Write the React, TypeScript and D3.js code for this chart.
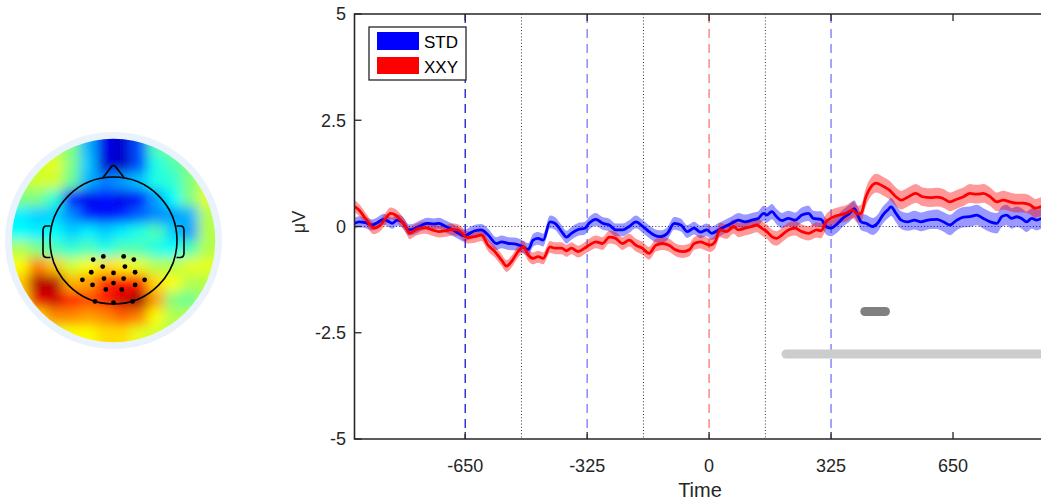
import React from 'react';
import * as d3 from 'd3';

// [time (ms), mean (µV), sem (µV)]
const STD_DATA: [number, number, number][] = [
  [-944, 0.075, 0.13], [-933, 0.11, 0.13], [-916, 0.09, 0.13], [-898, 0.035, 0.13], [-884, 0.09, 0.13],
  [-867, 0.17, 0.13], [-853, 0.11, 0.13], [-845, 0.075, 0.13], [-831, 0.15, 0.13], [-818, 0.11, 0.13],
  [-800, -0.08, 0.13], [-782, -0.04, 0.13], [-765, 0.035, 0.13], [-751, 0.075, 0.13], [-733, 0.06, 0.13],
  [-720, 0.075, 0.13], [-702, 0, 0.14], [-685, -0.07, 0.14], [-667, -0.16, 0.14], [-653, -0.22, 0.14],
  [-642, -0.18, 0.14], [-624, -0.1, 0.14], [-607, -0.08, 0.14], [-589, -0.2, 0.15], [-567, -0.4, 0.15],
  [-553, -0.36, 0.15], [-535, -0.4, 0.15], [-518, -0.41, 0.15], [-500, -0.46, 0.15], [-482, -0.54, 0.15],
  [-469, -0.32, 0.15], [-456, -0.28, 0.15], [-442, -0.32, 0.15], [-424, 0.11, 0.15], [-411, 0.075, 0.15],
  [-393, -0.12, 0.15], [-380, -0.25, 0.15], [-367, -0.16, 0.15], [-349, -0.07, 0.15], [-331, -0.04, 0.15],
  [-320, 0.075, 0.15], [-302, 0.17, 0.15], [-284, 0.075, 0.15], [-266, 0.035, 0.15], [-249, -0.08, 0.15],
  [-231, -0.08, 0.15], [-213, 0, 0.15], [-195, 0.11, 0.15], [-178, 0.01, 0.15], [-160, -0.12, 0.15],
  [-147, -0.2, 0.15], [-129, -0.24, 0.15], [-111, -0.16, 0.15], [-93, 0.075, 0.15], [-75, 0.035, 0.15],
  [-58, -0.12, 0.15], [-40, -0.04, 0.15], [-23, -0.13, 0.15], [-6, -0.08, 0.15], [7, -0.16, 0.16],
  [25, -0.08, 0.16], [43, 0, 0.16], [60, 0.075, 0.16], [78, 0.15, 0.17], [96, 0.11, 0.17],
  [114, 0.15, 0.17], [131, 0.19, 0.17], [145, 0.31, 0.18], [154, 0.27, 0.18], [167, 0.35, 0.18],
  [180, 0.23, 0.18], [194, 0.14, 0.18], [211, 0.19, 0.18], [229, 0.15, 0.18], [247, 0.27, 0.18],
  [265, 0.31, 0.18], [278, 0.19, 0.18], [287, 0.18, 0.18], [298, 0.17, 0.19], [312, 0, 0.19],
  [325, -0.04, 0.19], [338, 0.035, 0.2], [356, 0.19, 0.2], [374, 0.31, 0.2], [387, 0.42, 0.2],
  [396, 0.27, 0.2], [405, 0.11, 0.2], [418, 0.075, 0.2], [436, 0, 0.2], [449, 0.075, 0.2],
  [463, 0.27, 0.2], [476, 0.39, 0.2], [485, 0.46, 0.21], [498, 0.31, 0.21], [512, 0.15, 0.21],
  [529, 0.11, 0.21], [547, 0.15, 0.22], [565, 0.11, 0.22], [583, 0.15, 0.22], [592, 0.16, 0.22],
  [607, 0.17, 0.23], [624, 0.11, 0.23], [642, 0.035, 0.24], [660, 0.15, 0.24], [678, 0.22, 0.24],
  [695, 0.23, 0.24], [713, 0.27, 0.24], [731, 0.19, 0.24], [749, 0.11, 0.24], [767, 0.075, 0.24],
  [780, 0.23, 0.24], [793, 0.27, 0.24], [806, 0.19, 0.24], [820, 0.23, 0.24], [833, 0.19, 0.24],
  [846, 0.11, 0.24], [860, 0.19, 0.24], [873, 0.15, 0.24], [885, 0.19, 0.24],
];

const XXY_DATA: [number, number, number][] = [
  [-944, 0.47, 0.14], [-933, 0.39, 0.14], [-916, 0.19, 0.14], [-893, -0.04, 0.14], [-876, 0.035, 0.14],
  [-862, 0.19, 0.14], [-849, 0.31, 0.14], [-836, 0.27, 0.14], [-822, 0.15, 0.14], [-809, 0, 0.14],
  [-798, -0.16, 0.14], [-782, -0.08, 0.14], [-769, -0.04, 0.14], [-756, -0.03, 0.14], [-738, -0.08, 0.14],
  [-720, -0.12, 0.14], [-702, -0.1, 0.14], [-685, -0.07, 0.14], [-671, -0.08, 0.14], [-658, -0.16, 0.14],
  [-645, -0.26, 0.14], [-624, -0.24, 0.14], [-607, -0.2, 0.14], [-589, -0.44, 0.14], [-571, -0.59, 0.14],
  [-553, -0.79, 0.14], [-540, -0.93, 0.14], [-527, -0.83, 0.14], [-509, -0.59, 0.14], [-495, -0.48, 0.14],
  [-482, -0.67, 0.14], [-469, -0.75, 0.14], [-456, -0.71, 0.14], [-442, -0.75, 0.14], [-424, -0.48, 0.14],
  [-411, -0.51, 0.14], [-393, -0.51, 0.14], [-380, -0.57, 0.14], [-367, -0.51, 0.14], [-349, -0.59, 0.14],
  [-332, -0.51, 0.14], [-320, -0.44, 0.15], [-302, -0.36, 0.15], [-284, -0.4, 0.15], [-266, -0.25, 0.15],
  [-249, -0.28, 0.15], [-231, -0.4, 0.15], [-213, -0.32, 0.15], [-195, -0.44, 0.15], [-178, -0.51, 0.15],
  [-160, -0.63, 0.15], [-142, -0.44, 0.15], [-124, -0.4, 0.15], [-107, -0.44, 0.15], [-89, -0.55, 0.15],
  [-71, -0.59, 0.15], [-53, -0.55, 0.15], [-40, -0.4, 0.15], [-23, -0.36, 0.16], [-11, -0.4, 0.16],
  [3, -0.44, 0.16], [16, -0.36, 0.16], [29, -0.08, 0.17], [47, -0.12, 0.17], [65, 0, 0.17],
  [78, -0.08, 0.17], [96, -0.04, 0.17], [114, 0, 0.17], [127, 0.035, 0.17], [140, -0.04, 0.17],
  [154, -0.12, 0.17], [167, -0.24, 0.17], [180, -0.28, 0.17], [194, -0.2, 0.17], [211, -0.08, 0.17],
  [229, -0.04, 0.17], [247, -0.12, 0.17], [265, -0.16, 0.17], [287, -0.08, 0.18], [298, -0.1, 0.18],
  [312, 0.11, 0.18], [330, 0.22, 0.19], [347, 0.27, 0.19], [365, 0.31, 0.19], [383, 0.39, 0.2],
  [396, 0.29, 0.2], [405, 0.31, 0.2], [418, 0.7, 0.21], [432, 0.94, 0.22], [445, 1.02, 0.22],
  [463, 0.95, 0.22], [480, 0.86, 0.22], [498, 0.7, 0.22], [512, 0.62, 0.22], [529, 0.69, 0.22],
  [551, 0.78, 0.22], [569, 0.7, 0.22], [592, 0.68, 0.22], [607, 0.69, 0.22], [624, 0.66, 0.22],
  [642, 0.58, 0.22], [660, 0.64, 0.22], [678, 0.7, 0.22], [695, 0.78, 0.22], [713, 0.76, 0.22],
  [731, 0.78, 0.22], [749, 0.7, 0.22], [767, 0.58, 0.22], [784, 0.62, 0.22], [802, 0.58, 0.22],
  [820, 0.55, 0.22], [837, 0.55, 0.22], [855, 0.51, 0.22], [869, 0.43, 0.22], [885, 0.47, 0.22],
];

const X_TICKS = [-650, -325, 0, 325, 650];
const X_TICK_LABELS = ['-650', '-325', '0', '325', '650'];
const Y_TICKS = [-5, -2.5, 0, 2.5, 5];
const Y_TICK_LABELS = ['-5', '-2.5', '0', '2.5', '5'];
const X_DOMAIN = [-945, 945];
const Y_DOMAIN = [-5, 5];

const STIM_LINES = [-650, -325, 325];   // blue dashed
const TARGET_LINES = [0];               // red dashed
const DOTTED_LINES = [-500, -175, 150]; // black dotted

// significance bars [t0, t1, level µV]
const SIG_DARK: [number, number, number] = [415, 470, -2];
const SIG_LIGHT: [number, number, number] = [205, 945, -3];

const LEGEND_LABELS = ['STD', 'XXY'];

// topography grid (0..1 on jet scale), 12 x 12 rows from front (top) to back
const TOPO_GRID: number[][] = [
  [0.55, 0.55, 0.55, 0.5, 0.3, 0.1, 0.07, 0.2, 0.45, 0.5, 0.5, 0.5],
  [0.55, 0.58, 0.6, 0.5, 0.32, 0.08, 0.06, 0.2, 0.4, 0.45, 0.5, 0.55],
  [0.55, 0.58, 0.58, 0.48, 0.3, 0.25, 0.28, 0.32, 0.4, 0.42, 0.5, 0.58],
  [0.5, 0.5, 0.42, 0.14, 0.1, 0.14, 0.1, 0.12, 0.28, 0.38, 0.5, 0.6],
  [0.36, 0.33, 0.33, 0.26, 0.16, 0.12, 0.16, 0.22, 0.26, 0.28, 0.3, 0.55],
  [0.38, 0.36, 0.38, 0.33, 0.36, 0.33, 0.36, 0.4, 0.45, 0.33, 0.28, 0.55],
  [0.55, 0.5, 0.45, 0.42, 0.45, 0.4, 0.45, 0.45, 0.4, 0.38, 0.45, 0.55],
  [0.62, 0.75, 0.68, 0.58, 0.62, 0.66, 0.64, 0.6, 0.55, 0.55, 0.6, 0.6],
  [0.68, 0.95, 0.95, 0.7, 0.72, 0.84, 0.86, 0.84, 0.66, 0.62, 0.55, 0.55],
  [0.66, 0.9, 0.92, 0.84, 0.8, 0.84, 0.92, 0.97, 0.72, 0.5, 0.48, 0.55],
  [0.6, 0.66, 0.74, 0.74, 0.72, 0.74, 0.78, 0.75, 0.62, 0.55, 0.55, 0.55],
  [0.55, 0.55, 0.58, 0.62, 0.62, 0.66, 0.66, 0.6, 0.58, 0.55, 0.55, 0.55],
];

// electrode positions in head-radius units (x right, y back)
const ELECTRODES: [number, number][] = [
  [-0.32, 0.30], [-0.16, 0.25], [0.16, 0.25], [0.32, 0.30],
  [-0.35, 0.50], [-0.17, 0.41], [0.18, 0.41], [0.34, 0.50], [0.0, 0.51],
  [-0.49, 0.62], [-0.15, 0.60], [0.0, 0.67], [0.16, 0.60], [0.49, 0.62],
  [-0.33, 0.70], [-0.12, 0.77], [0.13, 0.77], [0.34, 0.70],
  [-0.29, 0.96], [0.0, 0.98], [0.30, 0.96],
];

const FONT = "'Liberation Sans', Arial, Helvetica, sans-serif";
type Pt = [number, number, number];

export default function App() {
  const W = 1041, H = 500;
  const left = 354.5, top = 14, bottom = 439, right = 1063.7;
  const x = d3.scaleLinear().domain(X_DOMAIN).range([left, right]);
  const y = d3.scaleLinear().domain(Y_DOMAIN).range([bottom, top]);

  const line = d3.line<Pt>().x(d => x(d[0])).y(d => y(d[1])).curve(d3.curveMonotoneX);
  const area = d3.area<Pt>().x(d => x(d[0])).y0(d => y(d[1] - d[2])).y1(d => y(d[1] + d[2])).curve(d3.curveMonotoneX);

  const jet = d3.scaleLinear<string>()
    .domain([0, 0.125, 0.375, 0.625, 0.875, 1])
    .range(['#00008f', '#0000ff', '#00ffff', '#ffff00', '#ff0000', '#800000'])
    .interpolate(d3.interpolateRgb);

  // topoplot geometry
  const cx = 113.5, cy = 240.5, R = 101.7, ringR = 108.5, headR = 63.5;
  const n = TOPO_GRID.length;
  const cs = (2 * R) / n;
  const pad = 18;

  const stroke = '#262626';

  return (
    <svg width={W} height={H} style={{ position: 'fixed', left: 0, top: 0, background: '#fff' }}
      xmlns="http://www.w3.org/2000/svg">
      <defs>
        <clipPath id="topoClip"><circle cx={cx} cy={cy} r={R} /></clipPath>
        <filter id="topoBlur" x="-20%" y="-20%" width="140%" height="140%">
          <feGaussianBlur stdDeviation="6" />
        </filter>
        <clipPath id="plotClip"><rect x={left} y={top} width={right - left} height={bottom - top} /></clipPath>
      </defs>
      <rect x={0} y={0} width={W} height={H} fill="#fff" />

      {/* Topoplot */}
      <g>
        <circle cx={cx} cy={cy} r={ringR} fill="#eaf2fb" />
        <g clipPath="url(#topoClip)">
          <g filter="url(#topoBlur)">
            {TOPO_GRID.map((row, i) => row.map((v, j) => {
              let rx = cx - R + j * cs, ry = cy - R + i * cs, rw = cs + 0.6, rh = cs + 0.6;
              if (j === 0) { rx -= pad; rw += pad; }
              if (j === n - 1) { rw += pad; }
              if (i === 0) { ry -= pad; rh += pad; }
              if (i === n - 1) { rh += pad; }
              return <rect key={`${i}-${j}`} x={rx} y={ry} width={rw} height={rh} fill={jet(v)} />;
            }))}
          </g>
        </g>
        <circle cx={cx} cy={cy} r={headR} fill="none" stroke="#000" strokeWidth={1.6} />
        <path d={`M${cx - 10.8},${cy - headR + 1} L${cx - 2},${cy - headR - 10.5} Q${cx},${cy - headR - 12.5} ${cx + 2},${cy - headR - 10.5} L${cx + 10.8},${cy - headR + 1}`}
          fill="none" stroke="#000" strokeWidth={1.6} strokeLinejoin="round" />
        {[-1, 1].map(s => (
          <path key={s}
            d={`M${cx + s * (headR - 0.5)},${cy - 14.5} L${cx + s * (headR + 3.5)},${cy - 14.5} Q${cx + s * (headR + 7)},${cy - 14.5} ${cx + s * (headR + 7)},${cy - 10} L${cx + s * (headR + 7)},${cy + 12} Q${cx + s * (headR + 7)},${cy + 17} ${cx + s * (headR + 3.5)},${cy + 17} L${cx + s * (headR - 0.5)},${cy + 17}`}
            fill="none" stroke="#000" strokeWidth={1.6} />
        ))}
        {ELECTRODES.map((e, i) => (
          <circle key={i} cx={cx + e[0] * headR} cy={cy + e[1] * headR} r={2.4} fill="#000" />
        ))}
      </g>

      {/* Plot area */}
      <g clipPath="url(#plotClip)">
        {DOTTED_LINES.map(t => (
          <line key={t} x1={x(t)} x2={x(t)} y1={top} y2={bottom} stroke="#333" strokeWidth={1} strokeDasharray="1,2.2" />
        ))}
        <line x1={left} x2={right} y1={y(0)} y2={y(0)} stroke="#333" strokeWidth={1} strokeDasharray="1,2.2" />
        {STIM_LINES.map((t, i) => (
          <line key={t} x1={x(t)} x2={x(t)} y1={top} y2={bottom}
            stroke={i === 0 ? '#0000c8' : '#6a6aff'} strokeWidth={1.2} strokeDasharray="9,6" />
        ))}
        {TARGET_LINES.map(t => (
          <line key={t} x1={x(t)} x2={x(t)} y1={top} y2={bottom} stroke="#ff6a6a" strokeWidth={1.2} strokeDasharray="9,6" />
        ))}

        <path d={area(STD_DATA) || ''} fill="#0000ff" fillOpacity={0.4} />
        <path d={area(XXY_DATA) || ''} fill="#ff0000" fillOpacity={0.4} />
        <path d={line(STD_DATA) || ''} fill="none" stroke="#0000ff" strokeWidth={2.8} strokeLinejoin="round" />
        <path d={line(XXY_DATA) || ''} fill="none" stroke="#ff0000" strokeWidth={2.8} strokeLinejoin="round" />

        <line x1={x(SIG_DARK[0])} x2={x(SIG_DARK[1])} y1={y(SIG_DARK[2])} y2={y(SIG_DARK[2])}
          stroke="#808080" strokeWidth={9} strokeLinecap="round" />
        <line x1={x(SIG_LIGHT[0])} x2={x(SIG_LIGHT[1])} y1={y(SIG_LIGHT[2])} y2={y(SIG_LIGHT[2])}
          stroke="#cccccc" strokeWidth={9} strokeLinecap="round" />
      </g>

      {/* Axes box */}
      <path d={`M${right},${top} L${left},${top} L${left},${bottom} L${right},${bottom}`} fill="none" stroke={stroke} strokeWidth={1.6} />
      {X_TICKS.map((t, i) => (
        <g key={t}>
          <line x1={x(t)} x2={x(t)} y1={bottom} y2={bottom - 7} stroke={stroke} strokeWidth={1.3} />
          <line x1={x(t)} x2={x(t)} y1={top} y2={top + 7} stroke={stroke} strokeWidth={1.3} />
          <text x={x(t)} y={472} textAnchor="middle" fontFamily={FONT} fontSize={18} fill={stroke}>{X_TICK_LABELS[i]}</text>
        </g>
      ))}
      {Y_TICKS.map((v, i) => (
        <g key={v}>
          <line x1={left} x2={left + 7} y1={y(v)} y2={y(v)} stroke={stroke} strokeWidth={1.3} />
          <text x={346} y={y(v)} dy="0.35em" textAnchor="end" fontFamily={FONT} fontSize={18} fill={stroke}>{Y_TICK_LABELS[i]}</text>
        </g>
      ))}
      <text x={700} y={497} textAnchor="middle" fontFamily={FONT} fontSize={20} fill={stroke}>Time</text>
      <text transform={`translate(305,222) rotate(-90)`} textAnchor="middle" fontFamily={FONT} fontSize={18} fill={stroke}>μV</text>

      {/* Legend */}
      <g>
        <rect x={369} y={27} width={97} height={53} fill="#fff" stroke={stroke} strokeWidth={1.3} />
        <rect x={377} y={32} width={42} height={18} fill="#0000ff" />
        <rect x={377} y={57} width={42} height={17} fill="#ff0000" />
        <text x={424} y={48} fontFamily={FONT} fontSize={17} fill="#000">{LEGEND_LABELS[0]}</text>
        <text x={424} y={73} fontFamily={FONT} fontSize={17} fill="#000">{LEGEND_LABELS[1]}</text>
      </g>
    </svg>
  );
}
